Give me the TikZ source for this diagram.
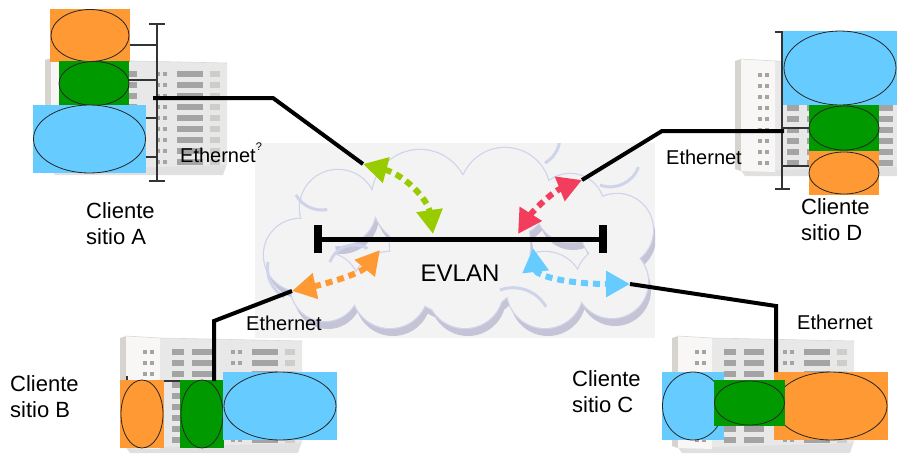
\documentclass[tikz,border=0pt]{standalone}
\usepackage{fontspec}
\setmainfont{Liberation Sans}
\usetikzlibrary{arrows.meta}

\definecolor{vorange}{HTML}{FF9933}
\definecolor{vgreen}{HTML}{009900}
\definecolor{vblue}{HTML}{66CCFF}
\definecolor{cloudbg}{HTML}{F3F3F4}
\definecolor{cloudrim}{HTML}{C4C4D6}
\definecolor{cloudline}{HTML}{D0D4EA}
\definecolor{alime}{HTML}{99CC00}
\definecolor{ared}{HTML}{F23E5C}
\definecolor{aorange}{HTML}{FF9933}
\definecolor{ablue}{HTML}{66CCFF}
\definecolor{bside}{HTML}{D7D3CE}
\definecolor{btower}{HTML}{F8F7F5}
\definecolor{bmain}{HTML}{E8E8E8}
\definecolor{bwin}{HTML}{A4A4A4}
\definecolor{bwinlight}{HTML}{CFCDC9}

\tikzset{
  vbox/.style={fill=#1, draw=none, inner sep=0pt, outer sep=0pt},
  ring/.style={draw=black!85, line width=0.8pt},
  bus/.style={draw=black!80, line width=1.2pt},
  wire/.style={draw=black, line width=4pt, line join=miter},
  darrow/.style={draw=#1, line width=6pt, dash pattern=on 7pt off 5pt,
    {Triangle[length=24pt,width=25pt,fill=#1]}-{Triangle[length=24pt,width=25pt,fill=#1]}},
  sitelabel/.style={font=\fontsize{22}{26}\selectfont, align=left, anchor=west, inner sep=0pt},
  ethlabel/.style={font=\fontsize{20}{24}\selectfont, inner sep=0pt},
}

% office block, top-left corner at (#1,#2)
\newcommand\officeblock[2]{%
\begin{scope}[shift={(#1,#2)}]
  \fill[black!12] (4,110) -- (182,106) -- (178,118) -- (10,118) -- cycle;
  \fill[bmain] (40,3) -- (182,6) -- (182,108) -- (40,112) -- cycle;
  \fill[bside] (0,3) -- (6,1) -- (6,113) -- (0,111) -- cycle;
  \fill[btower] (6,1) -- (40,3) -- (40,114) -- (6,113) -- cycle;
  \draw[black!15, line width=0.6pt] (6,1) -- (40,3) -- (182,6);
  \foreach \r in {0,...,8} {
    \fill[bwin] (23,{15+11*\r}) rectangle ++(4,4);
    \fill[bwin] (30,{15+11*\r}) rectangle ++(4,4);
    \fill[bwin] (52,{14+11*\r}) rectangle ++(12,6);
    \fill[bwin] (72,{14+11*\r}) rectangle ++(20,6);
    \fill[bwin] (111,{15+11*\r}) rectangle ++(4,4);
    \fill[bwin] (118,{15+11*\r}) rectangle ++(4,4);
    \fill[bwin] (132,{14+11*\r}) rectangle ++(26,6);
    \fill[bwinlight] (165,{14+11*\r}) rectangle ++(10,6);
  }
\end{scope}}

\begin{document}
\begin{tikzpicture}[x=1pt,y=-1pt]
\useasboundingbox (0,0) rectangle (897,453);
\fill[white] (0,0) rectangle (897,453);

% ---- cloud of the provider network ----
\fill[cloudbg] (255,143) rectangle (655,338);
\def\cloudcircles{(300,255) circle[radius=36] (338,208) circle[radius=38]
  (420,198) circle[radius=48] (505,193) circle[radius=45] (570,208) circle[radius=34]
  (617,230) circle[radius=36] (612,282) circle[radius=36] (545,290) circle[radius=38]
  (465,290) circle[radius=38] (390,290) circle[radius=38] (325,287) circle[radius=34]
  (460,245) circle[radius=70]}
\begin{scope}
  \clip (255,143) rectangle (655,338);
  \fill[cloudrim, shift={(3,8)}] \cloudcircles;
  \draw[cloudline, line width=2.5pt] \cloudcircles;
  \fill[cloudbg] \cloudcircles;
  \draw[cloudline, line width=3pt] (296,195) arc[start angle=150, end angle=80, radius=30];
  \draw[cloudline, line width=3pt] (268,262) arc[start angle=190, end angle=120, radius=34];
  \draw[cloudline, line width=3pt] (330,262) arc[start angle=200, end angle=300, radius=26];
  \draw[cloudline, line width=3pt] (500,290) arc[start angle=250, end angle=330, radius=38];
  \draw[cloudline, line width=3pt] (545,163) arc[start angle=60, end angle=-10, radius=30];
  \draw[cloudline, line width=3pt] (600,185) arc[start angle=110, end angle=20, radius=30];
\end{scope}

% ---- office blocks ----
\officeblock{45}{57}
\officeblock{735}{58}
\officeblock{120}{335}
\officeblock{672}{335}

% ---- site A : VLAN attachments ----
\draw[bus] (149,24) -- (165,24) (157,24) -- (157,181) (149,181) -- (165,181);
\draw[bus] (129,45) -- (157,45) (129,80) -- (157,80) (146,118) -- (157,118) (146,157) -- (157,157);
\node[vbox=vorange, minimum width=80pt, minimum height=53pt] (aor) at (90,35.5) {};
\draw[ring] (aor.center) ellipse [x radius=39, y radius=26];
\node[vbox=vgreen, minimum width=70pt, minimum height=45pt] (agr) at (94,83.5) {};
\draw[ring] (agr.center) ellipse [x radius=35, y radius=22];
\node[vbox=vblue, minimum width=113pt, minimum height=68pt] (abl) at (89.5,139) {};
\draw[ring] (abl.center) ellipse [x radius=56, y radius=34];

% ---- site D ----
\draw[bus] (775,32) -- (790,32) (782,32) -- (782,189) (775,189) -- (790,189);
\draw[bus] (782,128) -- (809,128) (782,166) -- (809,166);
\node[vbox=vblue, minimum width=114pt, minimum height=74pt] (dbl) at (840,68) {};
\draw[ring] (dbl.center) ellipse [x radius=56, y radius=37];
\node[vbox=vgreen, minimum width=70pt, minimum height=46pt] (dgr) at (844,128) {};
\draw[ring] (dgr.center) ellipse [x radius=35, y radius=22];
\node[vbox=vorange, minimum width=70pt, minimum height=44pt] (dor) at (844,173) {};
\draw[ring] (dor.center) ellipse [x radius=35, y radius=21];

% ---- site B ----
\draw[bus] (127,376) -- (127,381) -- (224,381);
\node[vbox=vorange, minimum width=44pt, minimum height=68pt] (bor) at (142,414) {};
\draw[ring] (bor.center) ellipse [x radius=21, y radius=34];
\node[vbox=vgreen, minimum width=44pt, minimum height=68pt] (bgr) at (202,414) {};
\draw[ring] (bgr.center) ellipse [x radius=21, y radius=34];
\node[vbox=vblue, minimum width=114pt, minimum height=68pt] (bbl) at (280,406) {};
\draw[ring] (bbl.center) ellipse [x radius=56, y radius=34];

% ---- site C ----
\node[vbox=vblue, minimum width=62pt, minimum height=68pt] (cbl) at (693,406) {};
\draw[ring] (cbl.center) ellipse [x radius=30.5, y radius=34];
\node[vbox=vorange, minimum width=114pt, minimum height=68pt] (cor) at (831,406) {};
\draw[ring] (cor.center) ellipse [x radius=56, y radius=34];
\node[vbox=vgreen, minimum width=71pt, minimum height=46pt] (cgr) at (749.5,403) {};
\draw[ring] (cgr.center) ellipse [x radius=35, y radius=22];

% ---- EVLAN bus ----
\coordinate (evL) at (318,239);
\coordinate (evR) at (603,239);
\draw[line width=5pt] (evL) -- (evR);
\draw[line width=8pt] (evL) ++(0,-14) -- ++(0,28);
\draw[line width=8pt] (evR) ++(0,-14) -- ++(0,28);
\node[font=\fontsize{24}{28}\selectfont, inner sep=0pt] (evlan) at (460,273) {EVLAN};

% ---- access links ----
\coordinate (aTap) at (153,98);   \coordinate (aBend) at (273,98);
\coordinate (dTap) at (784,131);  \coordinate (dBend) at (662,131);
\coordinate (bTap) at (214,381);  \coordinate (bBend) at (214,321);
\coordinate (cTap) at (776,372);  \coordinate (cBend) at (776,306);
\coordinate (gA) at (363,164);  \coordinate (gB) at (433,234);
\coordinate (rA) at (518,234);  \coordinate (rB) at (582,180);
\coordinate (oA) at (292,291);  \coordinate (oB) at (380,250);
\coordinate (lA) at (533,248);  \coordinate (lB) at (630,284);

\draw[wire] (aTap) -- (aBend) -- (gA);
\draw[wire] (dTap) -- (dBend) -- (rB);
\draw[wire] (bTap) -- (bBend) -- (oA);
\draw[wire] (cTap) -- (cBend) -- (lB);

% ---- logical links through the cloud ----
\draw[darrow=alime] (gA) .. controls (405,175) and (428,200) .. (gB);
\draw[darrow=ared] (rA) .. controls (532,212) and (552,192) .. (rB);
\draw[darrow=aorange] (oA) .. controls (325,284) and (360,274) .. (oB);
\draw[darrow=ablue] (lA) .. controls (536,275) and (565,284) .. (lB);

% ---- labels ----
\node[ethlabel] (ethA) at (218,155) {Ethernet};
\node[font=\fontsize{11}{12}\selectfont, inner sep=0pt] (ethAq) at (259,147) {?};
\node[ethlabel] (ethD) at (704,157) {Ethernet};
\node[ethlabel] (ethB) at (284,323) {Ethernet};
\node[ethlabel] (ethC) at (835,322) {Ethernet};

\node[sitelabel] (siteA) at (86,224) {Cliente\\sitio A};
\node[sitelabel] (siteD) at (801,220) {Cliente\\sitio D};
\node[sitelabel] (siteB) at (10,397) {Cliente\\sitio B};
\node[sitelabel] (siteC) at (572,392) {Cliente\\sitio C};
\end{tikzpicture}
\end{document}
